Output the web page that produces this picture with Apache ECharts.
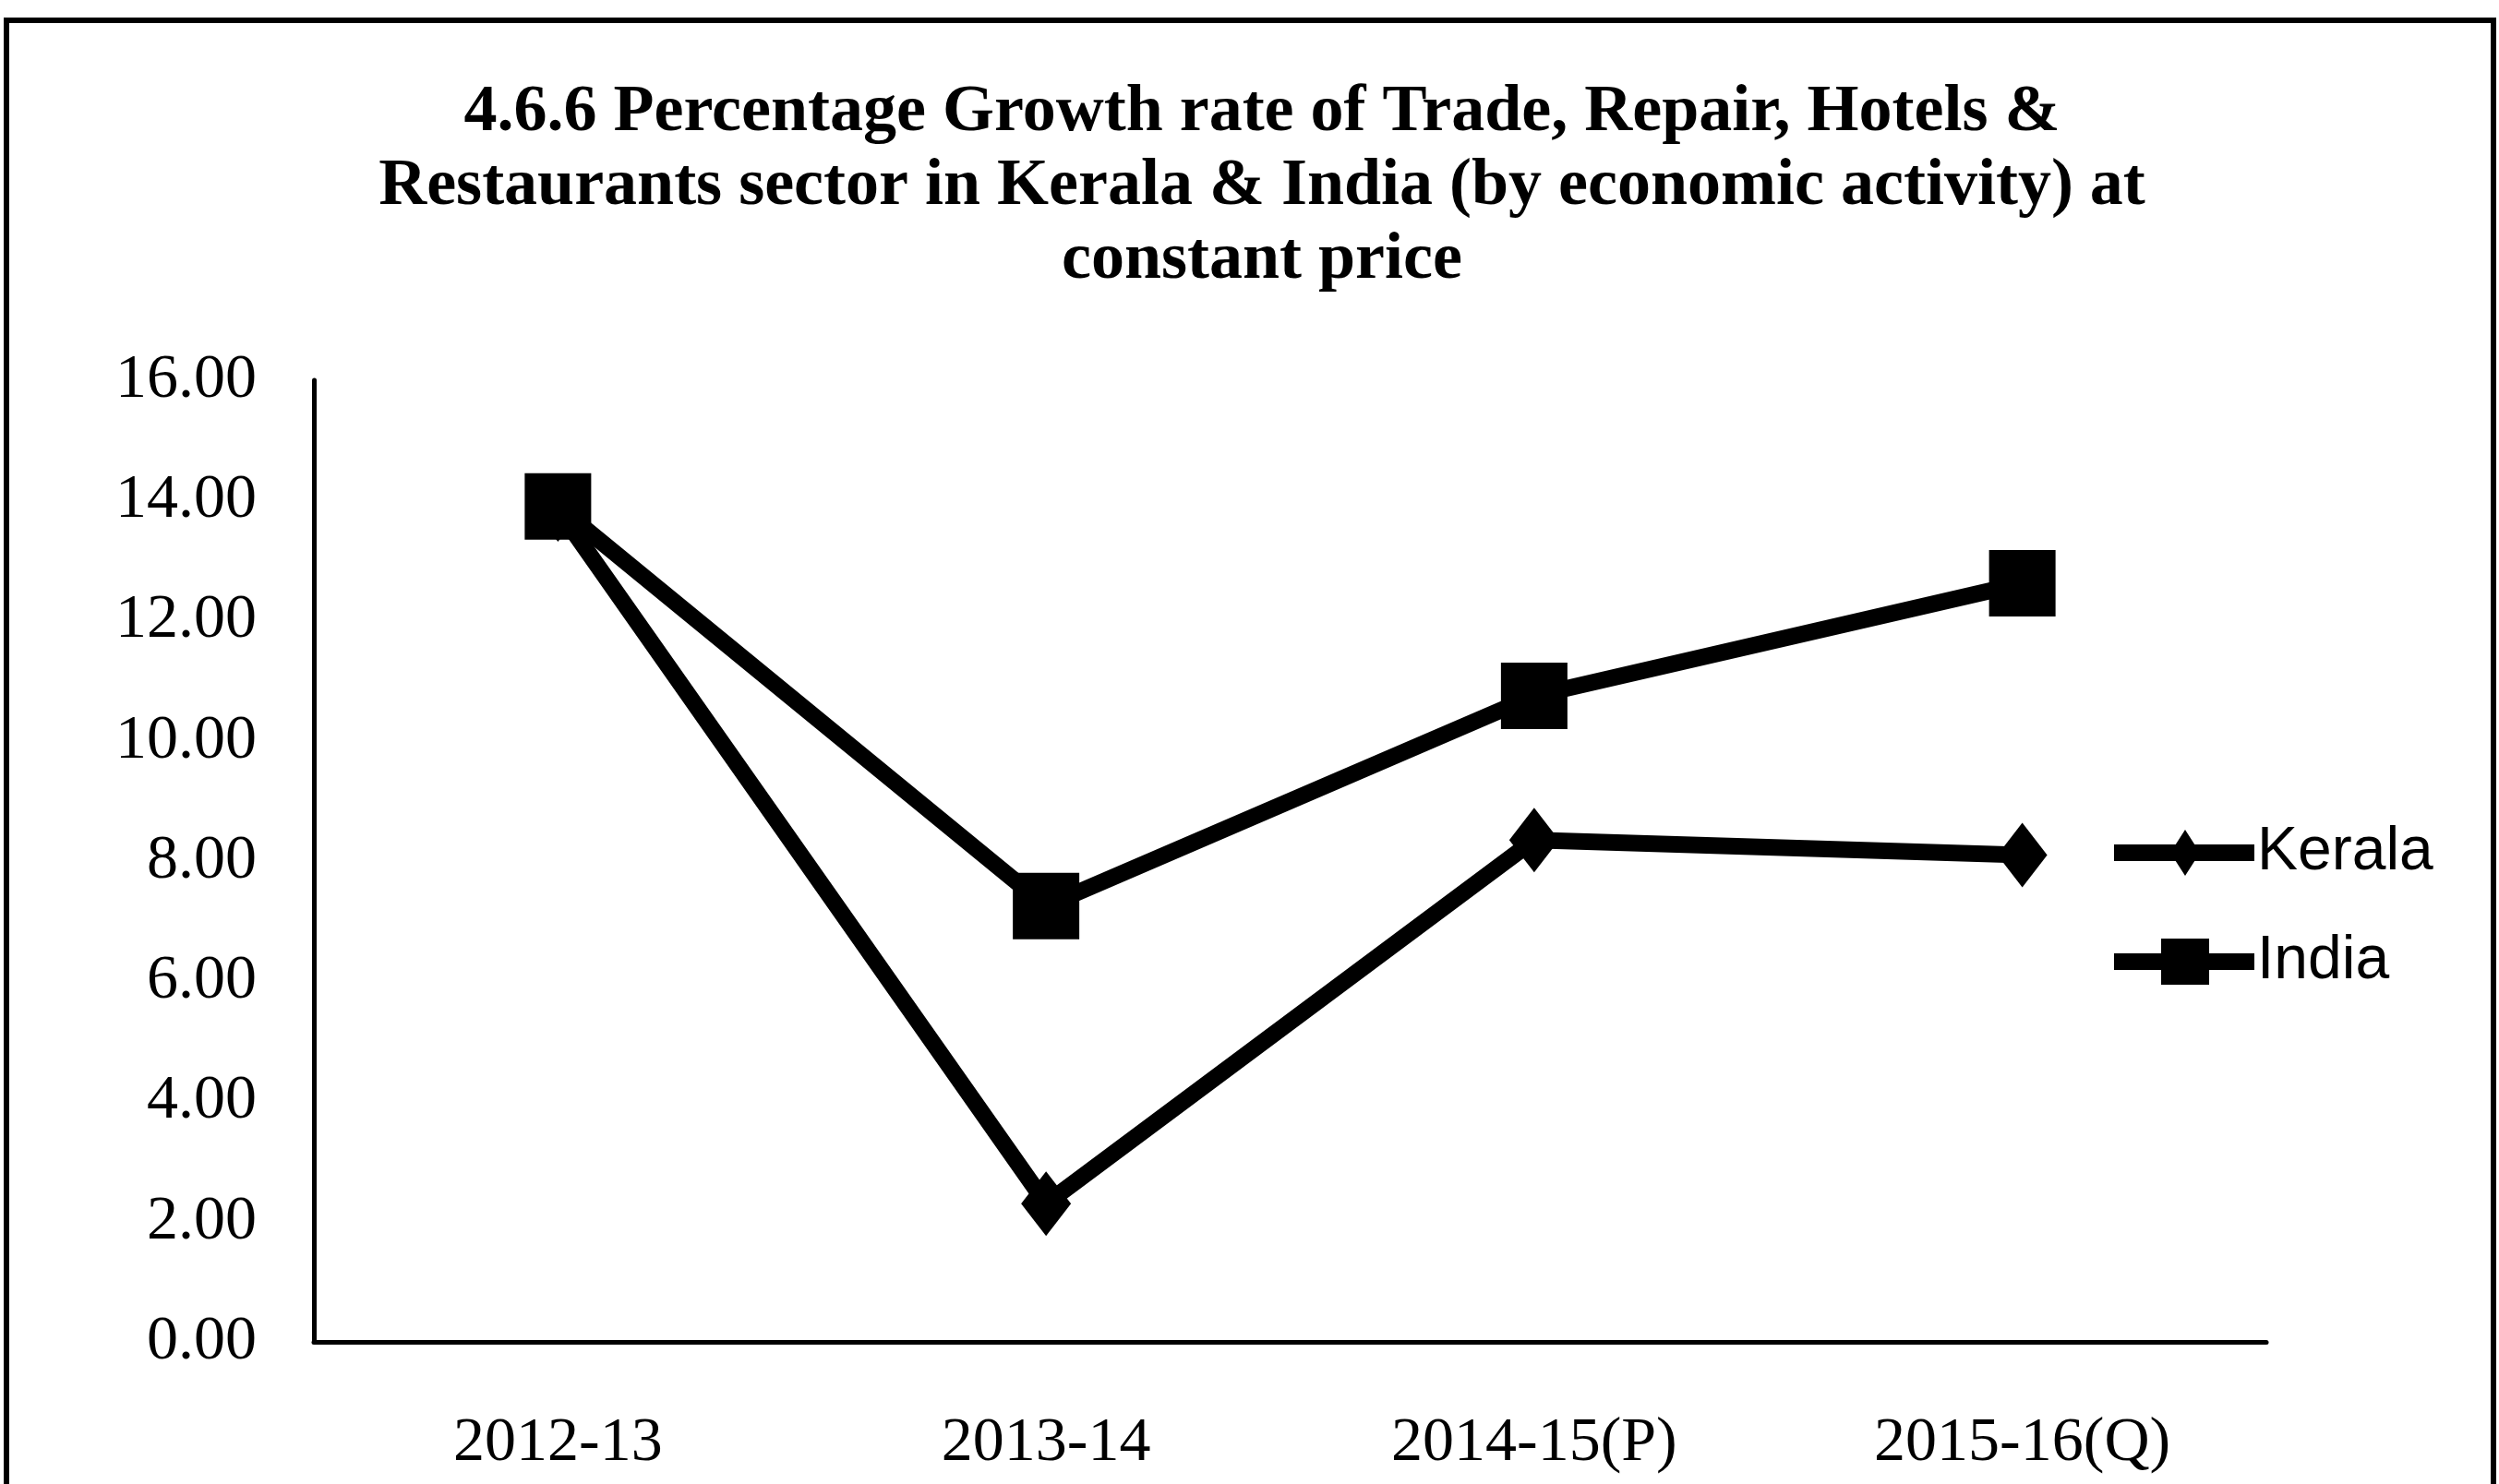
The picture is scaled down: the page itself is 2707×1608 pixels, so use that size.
<!DOCTYPE html>
<html>
<head>
<meta charset="utf-8">
<title>Trade, Repair, Hotels & Restaurants growth</title>
<script src="https://cdn.jsdelivr.net/npm/echarts@6/dist/echarts.min.js"></script>
<style>
  html, body { margin: 0; padding: 0; background: #fff; }
  #chart { width: 2707px; height: 1608px; }
</style>
</head>
<body>
<div id="chart"></div>
<script>
// Growth rate (%) of Trade, Repair, Hotels & Restaurants at constant price
const years = ['2012-13', '2013-14', '2014-15(P)', '2015-16(Q)'];
const kerala = [13.85, 2.30, 8.35, 8.10];
const india = [13.90, 7.25, 10.75, 12.62];
const seriesNames = ['Kerala', 'India'];
const titleText = '4.6.6 Percentage Growth rate of Trade, Repair, Hotels &\n' +
  'Restaurants sector in Kerala & India (by economic activity) at\n' +
  'constant price';

// legend icons: a thick line with the series marker in the middle
const keralaIcon = 'path://M0,16 L152,16 L152,34 L0,34 Z M77,0 L93,25 L77,50 L61,25 Z';
const indiaIcon = 'path://M0,16 L152,16 L152,34 L0,34 Z M51,0 L103,0 L103,50 L51,50 Z';

const serif = '"Liberation Serif", "Times New Roman", serif';
const sans = '"Liberation Sans", Arial, sans-serif';

const chart = echarts.init(document.getElementById('chart'), null, { renderer: 'canvas' });

chart.setOption({
  backgroundColor: '#ffffff',
  animation: false,
  title: {
    text: titleText,
    left: 1367,
    textAlign: 'center',
    top: 82,
    padding: 0,
    textStyle: {
      fontFamily: serif,
      fontWeight: 'bold',
      fontSize: 72,
      lineHeight: 80,
      color: '#000'
    }
  },
  legend: {
    orient: 'vertical',
    left: 2285,
    top: 886,
    itemWidth: 152,
    itemHeight: 50,
    itemGap: 52,
    data: [
      { name: seriesNames[0], icon: keralaIcon },
      { name: seriesNames[1], icon: indiaIcon }
    ],
    textStyle: {
      fontFamily: sans,
      fontSize: 66,
      color: '#000',
      padding: [0, 0, 0, -2]
    }
  },
  grid: {
    left: 340,
    right: 252,
    top: 412,
    bottom: 154,
    containLabel: false
  },
  xAxis: {
    type: 'category',
    data: years,
    boundaryGap: true,
    axisLine: { show: true, lineStyle: { color: '#000', width: 5 } },
    axisTick: { show: false },
    axisLabel: {
      fontFamily: serif,
      fontSize: 68,
      color: '#000',
      margin: 76
    },
    splitLine: { show: false }
  },
  yAxis: {
    type: 'value',
    min: 0,
    max: 16,
    interval: 2,
    axisLine: { show: true, lineStyle: { color: '#000', width: 5 } },
    axisTick: { show: false },
    splitLine: { show: false },
    axisLabel: {
      fontFamily: serif,
      fontSize: 68,
      color: '#000',
      margin: 62,
      formatter: v => v.toFixed(2)
    }
  },
  series: [
    {
      name: seriesNames[0],
      type: 'line',
      data: kerala,
      symbol: 'diamond',
      symbolSize: [54, 70],
      lineStyle: { color: '#000', width: 18 },
      itemStyle: { color: '#000' },
      z: 2
    },
    {
      name: seriesNames[1],
      type: 'line',
      data: india,
      symbol: 'rect',
      symbolSize: 72,
      lineStyle: { color: '#000', width: 18 },
      itemStyle: { color: '#000' },
      z: 3
    }
  ],
  graphic: [
    {
      type: 'rect',
      shape: { x: 7, y: 22, width: 2694, height: 1700 },
      style: { fill: 'none', stroke: '#000', lineWidth: 6 },
      silent: true
    }
  ]
});
</script>
</body>
</html>
